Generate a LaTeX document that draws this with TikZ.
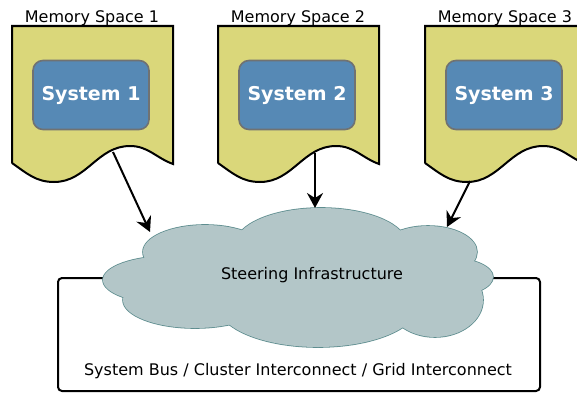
\documentclass[tikz,border=0pt]{standalone}
\usepackage{fontspec}
\setmainfont{DejaVu Sans}
\usepackage{tikz}
\usetikzlibrary{arrows.meta,calc,positioning}

\definecolor{memfill}{HTML}{DAD77A}
\definecolor{sysfill}{HTML}{5689B5}
\definecolor{sysdraw}{HTML}{707272}
\definecolor{cloudfill}{HTML}{B3C6C8}
\definecolor{clouddraw}{HTML}{5E8D8F}

\begin{document}
\begin{tikzpicture}[
  x=1pt, y=1pt,
  font=\fontsize{16}{19}\selectfont,
  memory/.style={draw=black, line width=2pt, fill=memfill},
  system/.style={rounded corners=10pt, draw=sysdraw, line width=1.6pt, fill=sysfill, text=white,
    font=\fontsize{19}{22}\selectfont\bfseries, minimum width=116pt, minimum height=69pt},
  puffline/.style={draw=clouddraw, line width=1.6pt, fill=cloudfill},
  bus/.style={draw=black, line width=2pt, rounded corners=4pt},
  arr/.style={-{Stealth[length=15pt, width=16pt, inset=5pt]}, line width=2pt},
]
  \useasboundingbox (0,0) rectangle (577,392);
  \clip (0,0) rectangle (577,392);

  % interconnect box
  \draw[bus] (58,1) rectangle (540,114);
  \node[anchor=base] (busline) at (298,17) {System Bus / Cluster Interconnect / Grid Interconnect};

  % memory spaces with one system each
  \foreach \x/\i in {12/1, 218/2, 425/3} {
    \draw[memory] (\x,229) -- (\x,366) -- ++(161,0) -- ++(0,-138)
      to[out=160,in=0] ++(-43,18) to[out=180,in=0] ++(-76,-36) to[out=180,in=-35] (\x,229);
    \node[system] (sys\i) at (\x+79,297) {System \i};
    \node[anchor=base] (mem\i) at (\x+80,370) {Memory Space \i};
  }

  % steering cloud: outlined puffs, then filled again to hide inner lines
  \def\puffs{170/112/67/24, 205/140/62/27, 321/147/86/37, 428/140/49/26,
    450/115/43/19, 435/92/48/37, 318/87/100/42, 195/92/72/28}
  \foreach \cx/\cy/\rx/\ry in \puffs
    \draw[puffline] (\cx,\cy) ellipse [x radius=\rx, y radius=\ry];
  \foreach \cx/\cy/\rx/\ry in \puffs
    \fill[cloudfill] (\cx,\cy) ellipse [x radius=\rx, y radius=\ry];
  \fill[cloudfill] (330,118) ellipse [x radius=130, y radius=25];
  \node[anchor=base] (steer) at (312,113) {Steering Infrastructure};

  % connections into the cloud
  \coordinate (out1) at (113,240);
  \coordinate (out2) at (315,239);
  \coordinate (out3) at (470,211);
  \coordinate (in1) at (150,160);
  \coordinate (in2) at (315,184);
  \coordinate (in3) at (447,165);
  \draw[arr] (out1) -- (in1);
  \draw[arr] (out2) -- (in2);
  \draw[arr] (out3) -- (in3);
\end{tikzpicture}
\end{document}
